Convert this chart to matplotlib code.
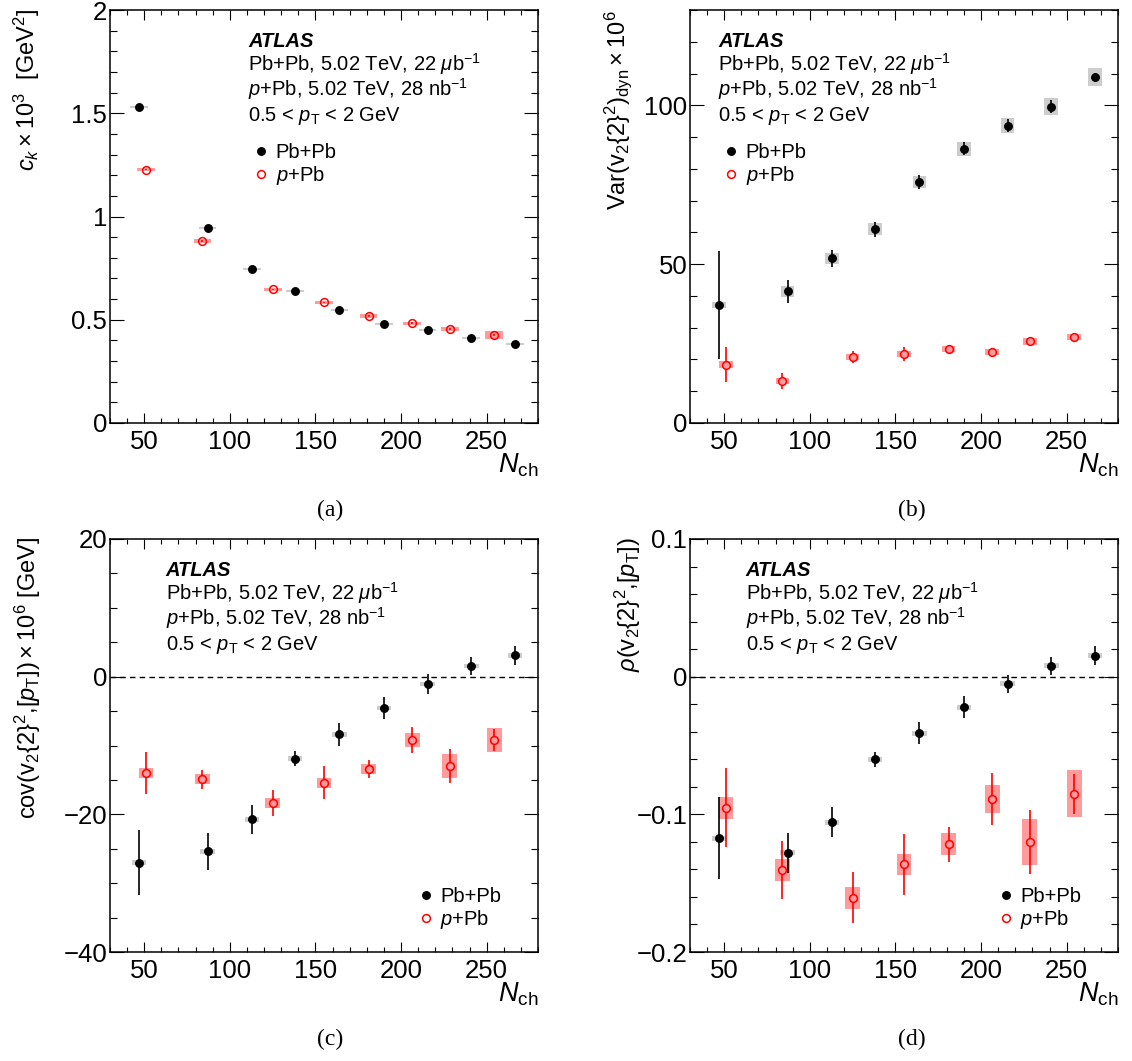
import matplotlib
matplotlib.use('Agg')
import matplotlib.pyplot as plt
from matplotlib.lines import Line2D
from matplotlib.ticker import MultipleLocator, FuncFormatter
import numpy as np

plt.rcParams['font.family'] = ['Liberation Sans', 'DejaVu Sans']
plt.rcParams['mathtext.fontset'] = 'custom'
plt.rcParams['mathtext.rm'] = 'Liberation Sans'
plt.rcParams['mathtext.it'] = 'Liberation Sans:italic'
plt.rcParams['mathtext.bf'] = 'Liberation Sans:bold'

# ---------------- data ----------------
nch_pbpb = [47, 87, 113, 138, 164, 190, 215.5, 241, 266.5]
nch_ppb = [51, 84, 125, 155, 181, 206.5, 228.5, 254.5]

# (a) c_k x 10^3
ck_pbpb = [1.532, 0.944, 0.746, 0.639, 0.549, 0.481, 0.449, 0.412, 0.384]
ck_pbpb_stat = [0.004, 0.004, 0.004, 0.004, 0.004, 0.004, 0.004, 0.004, 0.004]
ck_pbpb_sys = [0.005, 0.005, 0.005, 0.005, 0.005, 0.005, 0.005, 0.005, 0.005]
ck_ppb = [1.227, 0.881, 0.647, 0.584, 0.518, 0.483, 0.455, 0.425]
ck_ppb_stat = [0.004, 0.004, 0.004, 0.004, 0.004, 0.004, 0.004, 0.004]
ck_ppb_sys = [0.008, 0.008, 0.008, 0.008, 0.008, 0.008, 0.009, 0.02]

# (b) Var(v2{2}^2)_dyn x 10^6
var_pbpb = [37.1, 41.4, 51.8, 61.0, 75.9, 86.4, 93.6, 99.6, 108.8]
var_pbpb_stat = [17.1, 3.7, 2.8, 2.4, 2.1, 2.0, 2.0, 2.0, 1.5]
var_pbpb_sys = [1.0, 1.8, 1.7, 1.8, 2.0, 2.2, 2.4, 2.7, 2.8]
var_ppb = [18.4, 13.2, 20.8, 21.7, 23.2, 22.3, 25.7, 27.1]
var_ppb_stat = [5.4, 2.5, 1.9, 2.3, 1.3, 1.2, 1.5, 1.0]
var_ppb_sys = [1.0, 1.0, 1.0, 1.0, 1.0, 1.0, 1.0, 1.0]

# (c) cov(v2{2}^2,[pT]) x 10^6 [GeV]
cov_pbpb = [-27.0, -25.35, -20.7, -11.9, -8.4, -4.56, -1.07, 1.55, 3.1]
cov_pbpb_stat = [4.7, 2.7, 2.1, 1.1, 1.7, 1.6, 1.4, 1.35, 1.4]
cov_pbpb_sys = [0.35, 0.35, 0.35, 0.35, 0.35, 0.35, 0.35, 0.35, 0.35]
cov_ppb = [-14.0, -14.9, -18.4, -15.4, -13.4, -9.2, -13.0, -9.2]
cov_ppb_stat = [3.0, 1.4, 1.9, 2.35, 1.3, 1.9, 2.5, 1.6]
cov_ppb_sys = [0.75, 0.7, 0.75, 0.75, 0.75, 0.95, 1.7, 1.7]

# (d) rho(v2{2}^2,[pT])
rho_pbpb = [-0.1173, -0.128, -0.1056, -0.0601, -0.041, -0.0223, -0.0053, 0.0078, 0.0153]
rho_pbpb_stat = [0.030, 0.0148, 0.0109, 0.0056, 0.0081, 0.008, 0.0068, 0.0068, 0.0068]
rho_pbpb_sys = [0.0018, 0.0018, 0.0018, 0.0018, 0.0018, 0.0018, 0.0018, 0.0018, 0.0018]
rho_ppb = [-0.0952, -0.1405, -0.1607, -0.1364, -0.1219, -0.0887, -0.120, -0.085]
rho_ppb_stat = [0.0286, 0.021, 0.0185, 0.022, 0.0125, 0.0187, 0.0235, 0.0145]
rho_ppb_sys = [0.0081, 0.008, 0.0079, 0.0079, 0.008, 0.0102, 0.0166, 0.017]

ylabels = [r'$c_{k}\times10^{3}$  [GeV$^{2}$]',
           r'Var$(\mathrm{v}_{2}\{2\}^{2})_{\mathrm{dyn}}\times10^{6}$',
           r'cov$(\mathrm{v}_{2}\{2\}^{2}$,$[p_{\mathrm{T}}])\times10^{6}$ [GeV]',
           r'$\rho(\mathrm{v}_{2}\{2\}^{2}$,$[p_{\mathrm{T}}])$']
captions = ['(a)', '(b)', '(c)', '(d)']
legend_labels = ['Pb+Pb', r'$p$+Pb']
info_lines = [r'Pb+Pb, 5.02 TeV, 22 $\mu$b$^{-1}$',
              r'$p$+Pb, 5.02 TeV, 28 nb$^{-1}$',
              r'0.5 < $p_{\mathrm{T}}$ < 2 GeV']

GRAY = '#cdcdcd'
PINK = '#ff9b9b'
RED = '#ff0000'

W, H = 1132, 1061
fig = plt.figure(figsize=(W / 100, H / 100), dpi=100)

def px_axes(l, t, r, b):
    return fig.add_axes([l / W, 1 - b / H, (r - l) / W, (b - t) / H])

axes = [px_axes(110, 10, 538, 423), px_axes(690, 10, 1118, 423),
        px_axes(110, 539, 538, 952), px_axes(690, 539, 1118, 952)]

panels = [
    (ck_pbpb, ck_pbpb_stat, ck_pbpb_sys, ck_ppb, ck_ppb_stat, ck_ppb_sys),
    (var_pbpb, var_pbpb_stat, var_pbpb_sys, var_ppb, var_ppb_stat, var_ppb_sys),
    (cov_pbpb, cov_pbpb_stat, cov_pbpb_sys, cov_ppb, cov_ppb_stat, cov_ppb_sys),
    (rho_pbpb, rho_pbpb_stat, rho_pbpb_sys, rho_ppb, rho_ppb_stat, rho_ppb_sys),
]
ylims = [(0, 2), (0, 130), (-40, 20), (-0.2, 0.1)]
ymajor = [0.5, 50, 20, 0.1]
yminor = [0.1, 10, 5, 0.02]
halfw = [5.2, 4.0, 4.3, 4.3]
red_face = ['none', PINK, PINK, PINK]
text_x = [0.323, 0.066, 0.130, 0.130]
leg_anchor = [(0.334, 0.625), (0.077, 0.625), (0.719, 0.1036), (0.719, 0.1036)]
ylab_pos = [(27, 8), (618, 10), (28, 537), (628, 537)]
nch_pos = [(538, 472.7), (1118, 472.7), (538, 1001.7), (1118, 1001.7)]
cap_pos = [(330, 510), (912, 510), (330, 1039), (912, 1039)]

fmt = FuncFormatter(lambda v, p: ('%g' % round(v, 6)).replace('-', '\u2212'))

for i, ax in enumerate(axes):
    yb, yb_st, yb_sy, yr, yr_st, yr_sy = [np.array(a, dtype=float) for a in panels[i]]
    # systematic boxes
    ax.bar(nch_pbpb, 2 * yb_sy, bottom=yb - yb_sy, width=2 * halfw[i],
           color=GRAY, linewidth=0, zorder=1)
    ax.bar(nch_ppb, 2 * yr_sy, bottom=yr - yr_sy, width=2 * halfw[i],
           color=PINK, linewidth=0, zorder=1)
    if i >= 2:
        ax.axhline(0, color='k', lw=1.0, ls=(0, (4, 3)), zorder=1.5)
    # statistical errors
    ax.errorbar(nch_pbpb, yb, yerr=yb_st, fmt='none', ecolor='k',
                elinewidth=1.2, capsize=0, zorder=2)
    ax.errorbar(nch_ppb, yr, yerr=yr_st, fmt='none', ecolor=RED,
                elinewidth=1.2, capsize=0, zorder=2)
    # markers
    ax.plot(nch_pbpb, yb, 'o', color='k', ms=5.4, zorder=3)
    ax.plot(nch_ppb, yr, 'o', mfc=red_face[i], mec=RED, mew=1.1, ms=5.6, zorder=3)

    ax.set_xlim(30, 280)
    ax.set_ylim(*ylims[i])
    ax.xaxis.set_major_locator(MultipleLocator(50))
    ax.xaxis.set_minor_locator(MultipleLocator(10))
    ax.yaxis.set_major_locator(MultipleLocator(ymajor[i]))
    ax.yaxis.set_minor_locator(MultipleLocator(yminor[i]))
    ax.yaxis.set_major_formatter(fmt)
    ax.tick_params(which='both', direction='in', top=True, right=True,
                   width=0.8, labelsize=18.5)
    ax.tick_params(axis='x', which='major', length=7.2, pad=5)
    ax.tick_params(axis='x', which='minor', length=3.6)
    ax.tick_params(axis='y', which='major', length=10, pad=2)
    ax.tick_params(axis='y', which='minor', length=5)
    for s in ax.spines.values():
        s.set_linewidth(1.1)

    # info text
    ax.text(text_x[i], 0.910, 'ATLAS', transform=ax.transAxes, fontsize=14.5,
            fontweight='bold', fontstyle='italic', va='baseline', ha='left')
    for yy, line in zip([0.852, 0.7925, 0.732], info_lines):
        ax.text(text_x[i], yy, line, transform=ax.transAxes, fontsize=14.5,
                va='baseline', ha='left')

    handles = [Line2D([], [], ls='none', marker='o', color='k', ms=5.4),
               Line2D([], [], ls='none', marker='o', mfc='none', mec=RED, mew=1.1, ms=5.6)]
    ax.legend(handles, legend_labels, loc='center left', bbox_to_anchor=leg_anchor[i],
              frameon=False, fontsize=14.5, handlelength=0.8, handletextpad=0.33,
              borderpad=0, borderaxespad=0, labelspacing=0.1)

    fig.text(ylab_pos[i][0] / W, 1 - ylab_pos[i][1] / H, ylabels[i], rotation=90,
             ha='center', va='top', fontsize=17)
    fig.text(nch_pos[i][0] / W, 1 - nch_pos[i][1] / H, r'$N_{\mathrm{ch}}$',
             ha='right', va='baseline', fontsize=19.5)
    fig.text(cap_pos[i][0] / W, 1 - cap_pos[i][1] / H, captions[i],
             ha='center', va='center', fontsize=17, family='Liberation Serif')

fig.savefig('out.png', dpi=100)
